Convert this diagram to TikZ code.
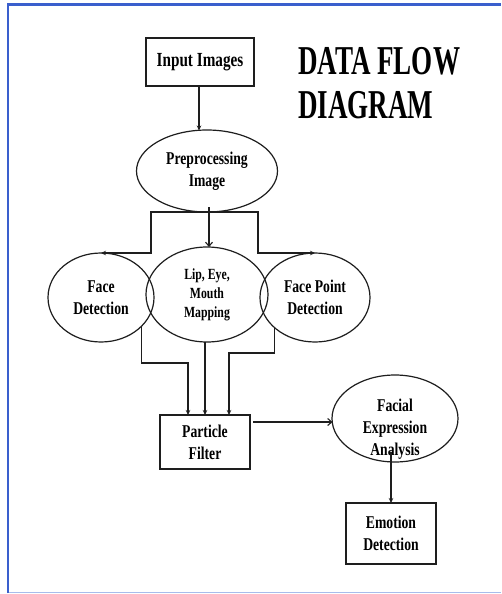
\documentclass[tikz,border=0pt]{standalone}
\usepackage{fontspec}
\setmainfont{Liberation Serif}[FakeStretch=0.76]
\newfontfamily\titlefont{Liberation Serif}[FakeStretch=0.66]
\usetikzlibrary{shapes.geometric,arrows.meta,calc}
\definecolor{frameblue}{HTML}{3A5FCD}
\definecolor{framelight}{HTML}{A8BCEB}
\definecolor{ink}{HTML}{1E1E1E}
\begin{document}
\begin{tikzpicture}[x=1pt,y=-1pt,
  every node/.style={inner sep=0pt,outer sep=0pt,text=black},
  lbl/.style={align=center,font=\bfseries\fontsize{18}{22}\selectfont},
  boxnode/.style={draw=ink,line width=1.4pt,rectangle,lbl},
  ellnode/.style={draw=ink,line width=1.2pt,ellipse,lbl},
  conn/.style={draw=ink,line width=1.2pt},
  arr/.style={conn,-{Stealth[length=5pt,width=4.5pt]}},
  openarr/.style={conn,-{Straight Barb[length=4pt,width=7pt,line width=1.1pt]}}
]
\useasboundingbox (0,0) rectangle (501,594);
\fill[white] (0,0) rectangle (501,594);
% frame
\draw[framelight,line width=1.5pt] (7,592.5) -- (501,592.5);
\draw[frameblue,line width=2.5pt] (8,593) -- (8,4.5) -- (501,4.5);

% title
\node[anchor=north west,align=left,font=\titlefont\bfseries\fontsize{41}{44}\selectfont] (title) at (298,47) {DATA FLOW\\DIAGRAM};

% nodes
\node[boxnode,minimum width=108pt,minimum height=48pt,font=\bfseries\fontsize{20}{24}\selectfont] (inp) at (200,62) {Input Images};
\node[ellnode,minimum width=141pt,minimum height=82pt] (pp) at (207,171) {Preprocessing\\Image};
\node[ellnode,minimum width=106pt,minimum height=89pt] (fd) at (101,297.5) {Face\\Detection};
\node[ellnode,minimum width=110pt,minimum height=89pt] (fp) at (315,297.5) {Face Point\\Detection};
\node[ellnode,minimum width=122pt,minimum height=95pt,font=\bfseries\fontsize{15.5}{19}\selectfont] (lip) at (207,294.5) {Lip, Eye,\\Mouth\\Mapping};
\node[boxnode,minimum width=90pt,minimum height=54pt] (pf) at (205,442) {Particle\\Filter};
\node[ellnode,minimum width=126pt,minimum height=87pt] (fea) at (395,418.5) {};
\node[lbl] (featext) at ($(fea.center)+(0,11)$) {Facial\\Expression\\Analysis};
\node[boxnode,minimum width=90pt,minimum height=61pt] (ed) at (391,533.5) {Emotion\\Detection};

% connectors
\draw[arr] ($(inp.south)+(-1,0)$) -- ($(inp.south |- pp.north)+(-1,0.5)$);
\draw[arr] (pp.south) -| (151,253) -- (fd.north);
\draw[arr] (pp.south) -| (258,253) -- (fp.north);
\draw[openarr] ($(pp.south)+(2,-5)$) -- ($(lip.north)+(2,0)$);
\draw[arr] (fd.-35) |- (188,363) -- ($(pf.north)+(-17,0)$);
\draw[arr] (lip.south -| pf.north) -- (pf.north);
\draw[arr] (fp.217) |- (229,353) -- ($(pf.north)+(24,0)$);
\draw[openarr] ($(pf.north east)+(3,7)$) -- ($(fea.west)+(0.5,3.5)$);
\draw[arr] ($(fea.south)+(-4,-10)$) -- (ed.north);
\end{tikzpicture}
\end{document}
